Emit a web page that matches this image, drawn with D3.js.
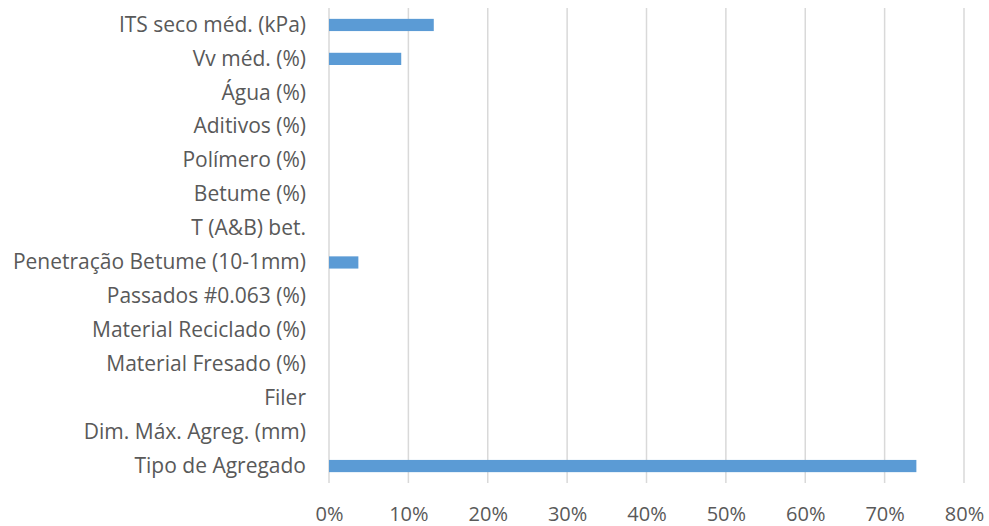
<!DOCTYPE html>
<html>
<head>
<meta charset="utf-8">
<script src="https://cdn.jsdelivr.net/npm/d3@7"></script>
<style>
  html, body { margin: 0; padding: 0; background: #fff; }
  svg { display: block; }
  text { font-family: "Open Sans", Lato, sans-serif; fill: #595959; }
</style>
</head>
<body>
<svg id="chart" width="989" height="526"></svg>
<script>
// Variables, top to bottom
const categories = [
  "ITS seco méd. (kPa)",
  "Vv méd. (%)",
  "Água (%)",
  "Aditivos (%)",
  "Polímero (%)",
  "Betume (%)",
  "T (A&B) bet.",
  "Penetração Betume (10-1mm)",
  "Passados #0.063 (%)",
  "Material Reciclado (%)",
  "Material Fresado (%)",
  "Filer",
  "Dim. Máx. Agreg. (mm)",
  "Tipo de Agregado"
];
// Share per variable, as a fraction
const values = [0.132, 0.091, 0, 0, 0, 0, 0, 0.037, 0, 0, 0, 0, 0, 0.74];
const ticks = [0, 0.1, 0.2, 0.3, 0.4, 0.5, 0.6, 0.7, 0.8];

const svg = d3.select("#chart");
const margin = { left: 329, right: 25, top: 8, bottom: 43 };
const W = 989, H = 526;
const font = "'Open Sans', Lato, sans-serif";

const x = d3.scaleLinear().domain([0, 0.8]).range([margin.left, W - margin.right]);
const y = d3.scaleBand().domain(categories)
  .range([margin.top, H - margin.bottom])
  .paddingInner(0.64).paddingOuter(0.32);

// vertical gridlines
svg.append("g").selectAll("line").data(ticks).join("line")
  .attr("x1", d => x(d)).attr("x2", d => x(d))
  .attr("y1", margin.top).attr("y2", H - margin.bottom)
  .attr("stroke", "#d9d9d9").attr("stroke-width", 1.5);

// bars
svg.append("g").selectAll("rect").data(categories).join("rect")
  .attr("x", x(0))
  .attr("y", d => y(d))
  .attr("width", (d, i) => x(values[i]) - x(0))
  .attr("height", y.bandwidth())
  .attr("fill", "#5b9bd5");

// category axis
const yAxis = svg.append("g")
  .attr("transform", `translate(${x(0)},0)`)
  .call(d3.axisLeft(y).tickSize(0).tickPadding(23));
yAxis.select(".domain").remove();
yAxis.selectAll("text").style("font-size", "21px").attr("fill", "#595959")
  .style("font-family", font);

// value axis
const xAxis = svg.append("g")
  .attr("transform", `translate(0,${H - margin.bottom})`)
  .call(d3.axisBottom(x).tickValues(ticks).tickFormat(d3.format(".0%")).tickSize(0).tickPadding(24));
xAxis.select(".domain").remove();
xAxis.selectAll("text").style("font-size", "20px").attr("fill", "#595959")
  .style("font-family", font);
</script>
</body>
</html>
